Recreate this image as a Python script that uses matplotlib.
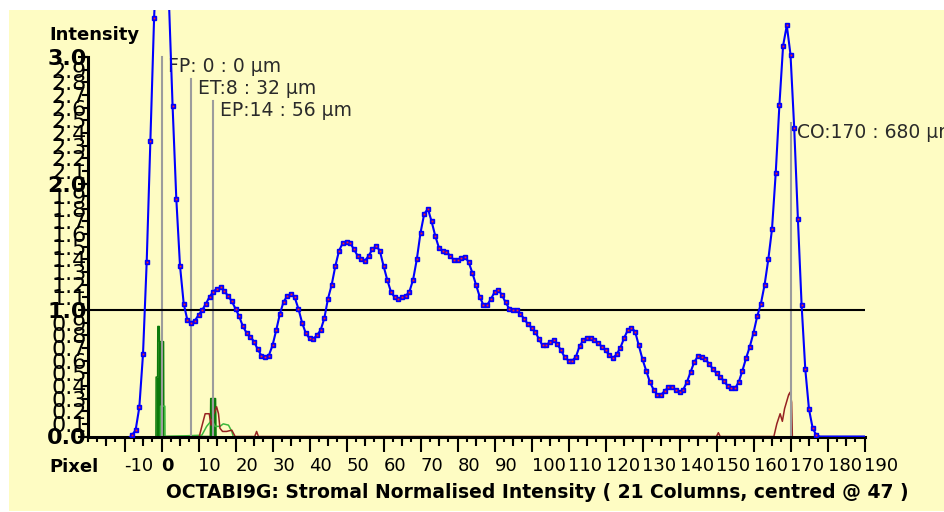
import numpy as np
import matplotlib
matplotlib.use("Agg")
import matplotlib.pyplot as plt
from matplotlib.patches import Rectangle
from matplotlib.ticker import MultipleLocator

# ---- data -------------------------------------------------------------
# Normalised stromal intensity, one sample per pixel from -20 to 190
pixels = np.arange(-20, 191)
intensity = [
    -0.015, -0.015, -0.015, -0.015, -0.015, -0.015, -0.015, -0.015, -0.015, -0.015, -0.015, -0.015,
    0.01, 0.05, 0.23, 0.65, 1.38, 2.34, 3.31, 4.0, 4.3, 4.1, 3.45,
    2.61, 1.88, 1.35, 1.05, 0.92, 0.90, 0.915, 0.96, 1.00, 1.05,
    1.105, 1.145, 1.17, 1.18, 1.15, 1.11, 1.07, 1.01, 0.95, 0.87,
    0.82, 0.79, 0.75, 0.69, 0.64, 0.63, 0.64, 0.72, 0.84, 0.97,
    1.066, 1.11, 1.127, 1.10, 1.01, 0.90, 0.816, 0.776, 0.77, 0.80,
    0.84, 0.934, 1.09, 1.20, 1.35, 1.47, 1.53, 1.54, 1.53, 1.48,
    1.43, 1.40, 1.39, 1.43, 1.48, 1.506, 1.47, 1.35, 1.24, 1.145,
    1.10, 1.085, 1.10, 1.11, 1.145, 1.24, 1.40, 1.61, 1.76, 1.80,
    1.70, 1.585, 1.49, 1.47, 1.46, 1.43, 1.395, 1.395, 1.41, 1.42,
    1.38, 1.295, 1.20, 1.105, 1.04, 1.04, 1.085, 1.14, 1.16, 1.12,
    1.06, 1.01, 1.00, 1.00, 0.97, 0.93, 0.89, 0.86, 0.83, 0.77,
    0.72, 0.72, 0.75, 0.76, 0.73, 0.68, 0.626, 0.60, 0.60, 0.63,
    0.715, 0.76, 0.78, 0.78, 0.76, 0.74, 0.71, 0.68, 0.645, 0.62,
    0.65, 0.70, 0.776, 0.84, 0.86, 0.83, 0.72, 0.61, 0.52, 0.43,
    0.37, 0.33, 0.33, 0.36, 0.39, 0.39, 0.37, 0.355, 0.37, 0.43,
    0.51, 0.59, 0.635, 0.63, 0.61, 0.575, 0.535, 0.50, 0.47, 0.44,
    0.40, 0.38, 0.38, 0.43, 0.52, 0.62, 0.71, 0.82, 0.95, 1.05,
    1.20, 1.40, 1.64, 2.08, 2.62, 3.09, 3.25, 3.02, 2.44, 1.72,
    1.04, 0.53, 0.215, 0.065, 0.01, 0, 0, 0, 0, 0,
    0, 0, 0, 0, 0, 0, 0, 0,
]

# Column traces near the baseline
dark_green_x = [-1.5, -1.45, -1.05, -1.0, -0.6, -0.55, 0.55, 0.6, 13.2, 13.3, 14.6, 14.7]
dark_green_y = [0, 0.47, 0.47, 0.87, 0.87, 0.75, 0.75, 0, 0, 0.30, 0.30, 0]

light_green_x = [-0.3, -0.25, 0.9, 0.95, 10.9, 12.2, 13.6, 14.5, 15.8, 16.7, 18.1, 19.0, 19.4]
light_green_y = [0, 0.24, 0.24, 0, 0.01, 0.08, 0.13, 0.08, 0.08, 0.10, 0.09, 0.04, 0]

red_x = [10.2, 10.9, 11.8, 12.9, 13.4, 14.0, 14.9, 15.4, 15.8, 16.5, 17.6, 19.0, 19.9,
         25.2, 25.7, 26.2, 150.0, 150.5, 151.0,
         165.5, 166.3, 167.2, 167.8, 168.4, 169.0, 169.5, 169.9, 170.3, 170.5]
red_y = [0, 0.08, 0.18, 0.18, 0.09, 0.17, 0.235, 0.18, 0.065, 0.04, 0.04, 0.05, 0,
         0, 0.04, 0, 0, 0.03, 0,
         0, 0.10, 0.18, 0.12, 0.22, 0.28, 0.33, 0.35, 0.27, 0]

# Boundary markers (pixel position, height of the marker line, caption)
marker_pixels = [0, 8, 14, 170]
marker_tops = [3.0, 2.83, 2.65, 2.48]
marker_labels = ["FP: 0 : 0 µm", "ET:8 : 32 µm", "EP:14 : 56 µm", "CO:170 : 680 µm"]

x_ticks = list(range(-10, 191, 10))
x_mid_ticks = list(range(-15, 191, 10))
y_ticks = [round(0.1 * i, 1) for i in range(31)]

title = "OCTABI9G: Stromal Normalised Intensity ( 21 Columns, centred @ 47 )"

# ---- figure -------------------------------------------------------------
W, H = 944, 512
BG = "#FEFCC3"
fig = plt.figure(figsize=(W / 100, H / 100), dpi=100, facecolor="white")
fig.patches.append(Rectangle((9 / W, 1 / H), 1, 501 / H, transform=fig.transFigure,
                             facecolor=BG, edgecolor="none", zorder=-10))

ax = fig.add_axes([87.5 / W, (H - 436.5) / H, 777 / W, 426.5 / H])
ax.set_facecolor("none")
ax.set_xlim(-20, 190)
ax.set_ylim(0, 3.372)

for side in ("top", "right"):
    ax.spines[side].set_visible(False)
ax.spines["left"].set_bounds(0, 3.0)
ax.spines["left"].set_linewidth(2.2)
ax.spines["bottom"].set_linewidth(2.2)

# y axis: a label every 0.1, integers in bold
ax.set_yticks(y_ticks)
ax.set_yticklabels([f"{v:.1f}" for v in y_ticks])
for v, lbl in zip(y_ticks, ax.get_yticklabels()):
    if float(v).is_integer():
        lbl.set_fontweight("bold")
ax.yaxis.set_minor_locator(plt.FixedLocator([0, 1, 2, 3]))
ax.yaxis.remove_overlapping_locs = False
ax.tick_params(axis="y", which="major", length=4.5, width=1.5, pad=-4, labelsize=16)
ax.tick_params(axis="y", which="minor", length=7, width=1.5)

# x axis: labelled every 10, ticks every 2.5 and 5
ax.set_xticks(x_ticks)
ax.set_xticklabels([str(t) for t in x_ticks])
for t, lbl in zip(x_ticks, ax.get_xticklabels()):
    lbl.set_horizontalalignment("left")
    if t == 0:
        lbl.set_fontweight("bold")
ax.xaxis.set_minor_locator(MultipleLocator(2.5))
ax.tick_params(axis="x", which="major", length=11, width=1.5, pad=3.5, labelsize=13)
ax.tick_params(axis="x", which="minor", length=3.5, width=1.5)

sec = ax.secondary_xaxis("bottom")
sec.set_xticks(x_mid_ticks)
sec.set_xticklabels([])
sec.tick_params(length=6.5, width=1.5)
sec.spines["bottom"].set_visible(False)

# reference level
ax.axhline(1.0, color="black", lw=1.5, zorder=2.6)

# column traces
ax.fill_between(dark_green_x, dark_green_y, color="#0A7A0A", lw=0, zorder=2.1)
ax.plot(dark_green_x, dark_green_y, color="#0A7A0A", lw=1.1, zorder=2.1)
ax.plot(light_green_x, light_green_y, color="#3CB83C", lw=1.1, zorder=2.15)
ax.plot(red_x, red_y, color="#962222", lw=1.1, zorder=2.2)

# boundary markers
for p, top, lab in zip(marker_pixels, marker_tops, marker_labels):
    ax.plot([p, p], [0, top], color="#9C9C9C", lw=1.5, zorder=2.4)
    ax.annotate(lab, xy=(p, top), xytext=(5, 0), textcoords="offset points",
                ha="left", va="top", fontsize=13.5, color="#2A2A2A",
                annotation_clip=False)

# intensity profile
vals = np.array(intensity)
shown = vals > 0.005
ax.plot(pixels, vals, color="#0000FF", lw=1.5, zorder=3.5)
ax.plot(pixels[shown], vals[shown], "s", ms=3.3, color="#0000FF", zorder=3.6)
ax.plot(pixels[shown], vals[shown], "s", ms=1.3, color="#FF2020", mew=0, zorder=3.7)

fig.text(49 / W, 1 - 35 / H, "Intensity", fontsize=13, fontweight="bold",
         ha="left", va="center")
fig.text(49 / W, 1 - 467 / H, "Pixel", fontsize=13, fontweight="bold",
         ha="left", va="center")
fig.text(537 / W, 1 - 493 / H, title, fontsize=13.5, fontweight="bold",
         ha="center", va="center")

fig.savefig("out.png", dpi=100, facecolor=fig.get_facecolor())
